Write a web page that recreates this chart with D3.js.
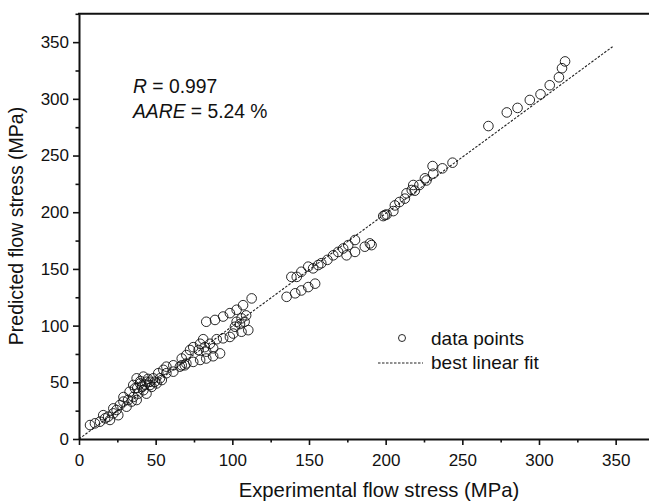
<!DOCTYPE html>
<html>
<head>
<meta charset="utf-8">
<script src="https://cdn.jsdelivr.net/npm/d3@7.9.0/dist/d3.min.js"></script>
<style>
  body { margin: 0; background: #fff; }
  text { font-family: "Liberation Sans", Arial, sans-serif; fill: #111; }
</style>
</head>
<body>
<div id="chart"></div>
<script>
// experimental flow stress (MPa)
const experimental = [
  7.2, 10.4, 13.7, 17, 19, 22.4, 24.5, 26.7, 29, 31, 32, 35.4, 38.7, 42, 22.4, 25.6, 20.2, 15.8, 29, 33, 36.5,
  37.6, 34.3, 44, 35.4, 37.6, 39.8, 42, 44, 46.3, 47.4, 50.6, 54, 48.4, 46.3, 51.7, 55, 57, 61.5, 61.5, 57,
  52.8, 49.5, 65.8, 69, 67, 70, 74.5, 79, 83, 87.5, 92, 67, 70, 72.4, 74.5, 78, 79, 81, 82, 83, 85.4, 87.5,
  83, 88.7, 94, 98.4, 102.8, 107, 112.6, 89.8, 94, 98.4, 100.6, 106, 110.4, 101.7, 105, 108, 102.8, 106, 109,
  135.4, 141, 145, 149.5, 154, 138.5, 142, 145, 149.5, 152.7, 156, 158, 162, 165.8, 169, 172.3, 175.6, 180,
  174.5, 180, 186.4, 189.7, 190.8, 199.5, 198.4, 200.6, 205, 206, 209, 212.5, 213.6, 217, 219, 218, 222,
  225.6, 226.6, 231, 230.6, 237, 243.6, 267, 279, 286, 294, 301, 307, 313, 315, 317,
  40, 43, 45, 38, 41
];
// predicted flow stress (MPa)
const predicted = [
  12.3, 13.8, 15.3, 18.2, 19.7, 22.6, 25.6, 30, 33, 28.5, 34.4, 37, 40, 43, 27, 21, 16.8, 21, 37, 41.7, 44.7,
  34.4, 33, 40, 47.6, 53.5, 49, 55, 50.5, 50.5, 46, 49, 52, 53.5, 47.6, 58, 61, 63.8, 65, 59.4, 58,
  53.5, 50.5, 63.8, 65, 65, 66.6, 68, 69.7, 71, 73, 75.5, 71, 74, 78.5, 81, 78.5, 84, 88, 81, 77, 84, 80,
  103.4, 105, 108, 111, 114, 118, 124, 88, 88.8, 90, 93, 94.6, 96, 99, 101.4, 103.4, 103.4, 106.4, 109,
  125.4, 128.5, 131, 134, 137, 143, 143, 147.5, 152, 150.5, 153.4, 155, 158, 162, 165, 168, 171, 175.5,
  162, 165, 169.6, 172.5, 171, 197.5, 196.6, 198, 201, 206, 209, 212, 216.7, 219.6, 219, 224, 224,
  229.9, 228, 234, 240.7, 238.7, 243.7, 276, 288, 292, 299, 304, 312, 319, 327, 333,
  51, 48, 53, 45, 46
];
const fitX = [0, 348];
const fitY = [0, 346];
const ticks = [0, 50, 100, 150, 200, 250, 300, 350];
const minorTicks = [25, 75, 125, 175, 225, 275, 325, 375];
const statLines = ["R = 0.997", "AARE = 5.24 %"];

const width = 649, height = 503;
const svg = d3.select('#chart').append('svg')
  .attr('width', width).attr('height', height);

const x = d3.scaleLinear().domain([0, 375]).range([79, 654]);
const y = d3.scaleLinear().domain([0, 375]).range([439, 13.8]);

// fit line
svg.append('line')
  .attr('x1', x(fitX[0])).attr('y1', y(fitY[0]))
  .attr('x2', x(fitX[1])).attr('y2', y(fitY[1]))
  .attr('stroke', '#222').attr('stroke-width', 1.1)
  .attr('stroke-dasharray', '2.5,1.5');

// points
svg.append('g').selectAll('circle')
  .data(experimental.map((d, i) => [d, predicted[i]]))
  .join('circle')
  .attr('cx', d => x(d[0]))
  .attr('cy', d => y(d[1]))
  .attr('r', 4.8)
  .attr('fill', 'none')
  .attr('stroke', '#111')
  .attr('stroke-width', 0.9);

// axes
svg.append('g').attr('transform', `translate(0,${y(0)})`)
  .call(d3.axisBottom(x).tickValues(ticks).tickSize(6).tickPadding(9).tickSizeOuter(0));
svg.append('g').attr('transform', `translate(0,${y(0)})`)
  .call(d3.axisBottom(x).tickValues(minorTicks).tickSize(3.5).tickFormat('').tickSizeOuter(0))
  .select('.domain').remove();
svg.append('g').attr('transform', `translate(${x(0)},0)`)
  .call(d3.axisLeft(y).tickValues(ticks).tickSize(6).tickPadding(4).tickSizeOuter(0));
svg.append('g').attr('transform', `translate(${x(0)},0)`)
  .call(d3.axisLeft(y).tickValues(minorTicks).tickSize(3.5).tickFormat('').tickSizeOuter(0))
  .select('.domain').remove();

svg.selectAll('.domain').attr('stroke', '#111').attr('stroke-width', 2);
svg.selectAll('.tick line').attr('stroke', '#111').attr('stroke-width', 1.6);
svg.selectAll('.tick text').attr('font-size', 17).attr('fill', '#111')
  .style('font-family', '"Liberation Sans", Arial, sans-serif');

// top frame
svg.append('line')
  .attr('x1', x(0) - 1).attr('x2', width)
  .attr('y1', y(375)).attr('y2', y(375))
  .attr('stroke', '#111').attr('stroke-width', 2);

// axis titles
svg.append('text')
  .attr('x', 379).attr('y', 497)
  .attr('text-anchor', 'middle').attr('font-size', 20.3)
  .text('Experimental flow stress (MPa)');
svg.append('text')
  .attr('transform', 'translate(23,226) rotate(-90)')
  .attr('text-anchor', 'middle').attr('font-size', 19.5)
  .text('Predicted flow stress (MPa)');

// stats
const stat = svg.append('g').attr('font-size', 19.3);
const t1 = stat.append('text').attr('x', 133).attr('y', 93);
t1.append('tspan').attr('font-style', 'italic').text('R');
t1.append('tspan').text(statLines[0].slice(1));
const t2 = stat.append('text').attr('x', 133).attr('y', 118);
t2.append('tspan').attr('font-style', 'italic').text('AARE');
t2.append('tspan').text(statLines[1].slice(4));

// legend
svg.append('circle').attr('cx', 402).attr('cy', 338).attr('r', 3.5)
  .attr('fill', 'none').attr('stroke', '#111').attr('stroke-width', 0.9);
svg.append('text').attr('x', 431).attr('y', 345).attr('font-size', 19).text('data points');
svg.append('line').attr('x1', 378).attr('x2', 423).attr('y1', 363).attr('y2', 363)
  .attr('stroke', '#222').attr('stroke-width', 1.1).attr('stroke-dasharray', '2.5,1.5');
svg.append('text').attr('x', 431).attr('y', 369).attr('font-size', 19).text('best linear fit');
</script>
</body>
</html>
